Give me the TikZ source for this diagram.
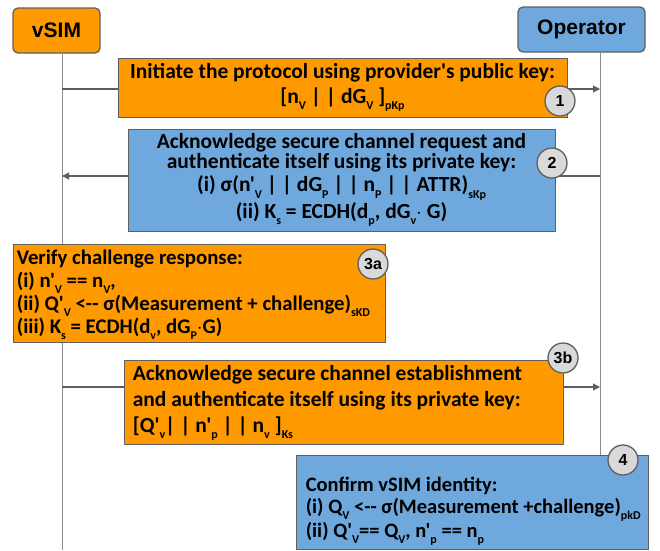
\documentclass[tikz,border=0pt]{standalone}
\usepackage{fontspec}
\setmainfont{Carlito}[Ligatures=TeXOff]
\newfontfamily\arialfont{Liberation Sans}
\usetikzlibrary{arrows.meta}
\definecolor{orng}{HTML}{FF9900}
\definecolor{blu}{HTML}{6FA8DC}
\definecolor{edge}{HTML}{5F5F5F}
\definecolor{numfill}{HTML}{D9D9D9}
\definecolor{lifec}{HTML}{8C8C8C}
\newcommand{\lowsub}[1]{\raisebox{-0.6ex}{\fontsize{12}{12}\selectfont #1}}
\begin{document}
\begin{tikzpicture}[x=1pt,y=-1pt,
  actor/.style={draw=edge, line width=1.3pt, rounded corners=5pt, inner sep=0pt,
    font=\arialfont\bfseries\fontsize{21}{24}\selectfont},
  msgbox/.style={draw=edge, line width=0.8pt, inner sep=0pt,
    font=\bfseries\fontsize{21.5}{22}\selectfont},
  msgtext/.style={inner sep=0pt, align=left, anchor=west},
  numc/.style={circle, draw=edge, line width=1.3pt, fill=numfill, minimum size=30pt,
    inner sep=0pt, font=\arialfont\bfseries\fontsize{16}{16}\selectfont},
  life/.style={draw=lifec, line width=1pt},
  msg/.style={draw=edge, line width=1.1pt},
  tip/.style={-{Triangle[length=7pt,width=7pt]}}
]
\useasboundingbox (0,0) rectangle (660,550);
% actors
\node[actor, fill=orng, minimum width=87pt, minimum height=45pt] (vsim) at (56.5,30.5) {vSIM};
\node[actor, fill=blu, minimum width=127pt, minimum height=45pt] (op) at (581.5,29.5) {Operator};
% lifelines
\coordinate (vend) at (62,550);
\coordinate (oend) at (600,455);
\draw[life] (vsim.south -| vend) -- (vend);
\draw[life] (op.south -| oend) -- (oend);
% message 1
\node[msgbox, fill=orng, minimum width=449pt, minimum height=59pt, align=center] (m1) at (342.5,87.5)
  {Initiate the protocol using provider's public key:\\[3pt]
   {}[n\lowsub{V} | | dG\lowsub{V} ]\lowsub{pKp}};
\coordinate (v1) at (62,89);
\coordinate (o1) at (600,89);
\draw[msg] (v1) -- (m1.west |- v1);
\draw[msg, tip] (m1.east |- o1) -- (o1);
\node[numc] (c1) at (560,101) {1};
% message 2
\node[msgbox, fill=blu, minimum width=427pt, minimum height=102pt, align=center,
  font=\bfseries\fontsize{21.5}{20}\selectfont] (m2) at (341.5,180)
  {Acknowledge secure channel request and\\
   authenticate itself using its private key:\\[3pt]
   (i) σ(n'\lowsub{V} | | dG\lowsub{P} | | n\lowsub{P} | | ATTR)\lowsub{sKp}\\[1pt]
   (ii) K\lowsub{s} = ECDH(d\lowsub{p}, dG\lowsub{v}$\cdot$ G)};
\coordinate (v2) at (62,176);
\coordinate (o2) at (600,176);
\draw[msg] (o2) -- (m2.east |- o2);
\draw[msg, tip] (m2.west |- v2) -- (v2);
\node[numc] (c2) at (552,163) {2};
% box 3a
\node[msgbox, fill=orng, minimum width=372pt, minimum height=98pt] (m3a) at (199,293) {};
\node[msgtext, font=\bfseries\fontsize{20.8}{23}\selectfont] (t3a) at ([xshift=4pt,yshift=-2pt]m3a.west)
  {Verify challenge response:\\
   (i) n'\lowsub{V} == n\lowsub{V},\\
   (ii) Q'\lowsub{V} <-- σ(Measurement + challenge)\lowsub{sKD}\\
   (iii) K\lowsub{s} = ECDH(d\lowsub{v}, dG\lowsub{P}$\cdot$G)};
\node[numc] (c3a) at (373,264) {3a};
% message 3b
\node[msgbox, fill=orng, minimum width=439pt, minimum height=84pt] (m3b) at (343.5,402) {};
\node[msgtext, font=\bfseries\fontsize{21.5}{26}\selectfont] (t3b) at ([xshift=9pt,yshift=-1pt]m3b.west)
  {Acknowledge secure channel establishment\\
   and authenticate itself using its private key:\\
   {}[Q'\lowsub{v}| | n'\lowsub{p} | | n\lowsub{v} ]\lowsub{Ks}};
\coordinate (v3) at (62,387);
\coordinate (o3) at (600,387);
\draw[msg] (v3) -- (m3b.west |- v3);
\draw[msg, tip] (m3b.east |- o3) -- (o3);
\node[numc] (c3b) at (563,358) {3b};
% box 4
\node[msgbox, fill=blu, minimum width=352pt, minimum height=94pt] (m4) at (472,502) {};
\node[msgtext, font=\bfseries\fontsize{20.5}{22}\selectfont] (t4) at ([xshift=10pt,yshift=-9pt]m4.west)
  {Confirm vSIM identity:\\
   (i) Q\lowsub{V} <-- σ(Measurement +challenge)\lowsub{pkD}\\
   (ii) Q'\lowsub{V}== Q\lowsub{V}, n'\lowsub{p} == n\lowsub{p}};
\node[numc] (c4) at (623,460) {4};
\end{tikzpicture}
\end{document}
